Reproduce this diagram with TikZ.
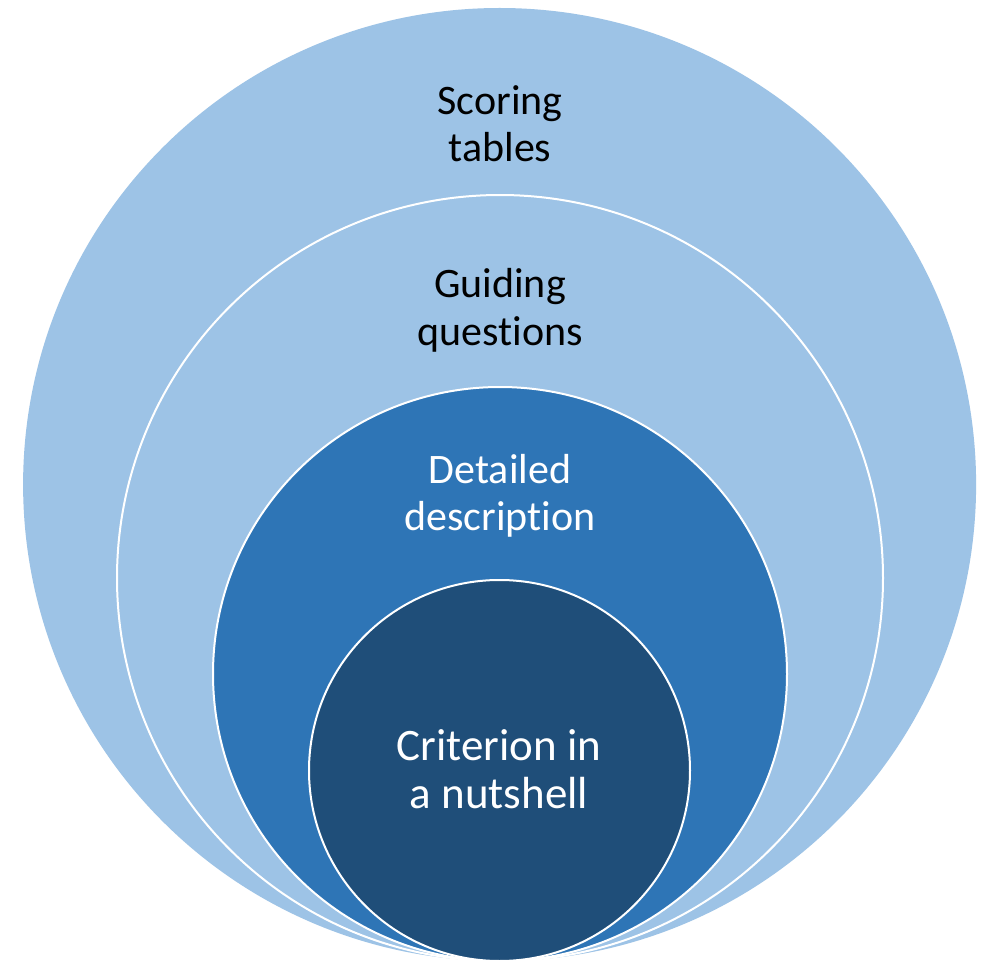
\documentclass[tikz,border=0pt]{standalone}
\usepackage{fontspec}
\setmainfont[Ligatures={NoCommon,NoContextual},Contextuals=NoAlternate,RawFeature={-liga;-clig;-calt;-dlig}]{Carlito}
\definecolor{lightblue}{HTML}{9DC3E6}
\definecolor{midblue}{HTML}{2E75B6}
\definecolor{darkblue}{HTML}{1F4E79}
\begin{document}
\begin{tikzpicture}[x=1pt,y=-1pt,
  ring/.style={circle,draw=white,line width=2pt,inner sep=0pt},
  lbl/.style={anchor=base,inner sep=0pt,font=\fontsize{42}{47}\selectfont},
  biglbl/.style={anchor=base,inner sep=0pt,font=\fontsize{45}{48}\selectfont}]
\useasboundingbox (0,0) rectangle (986,960);
\fill[white] (0,0) rectangle (986,960);
\node[ring,fill=lightblue,draw=none,minimum size=953pt] (c1) at (499.6,484.5) {};
\node[ring,fill=lightblue,minimum size=766pt] (c2) at (500,578) {};
\node[ring,fill=midblue,minimum size=574pt] (c3) at (500,674) {};
\node[ring,fill=darkblue,minimum size=381pt] (c4) at (499.5,770.5) {};
\node[lbl,text=black] (t1a) at (500,115) {Scoring};
\node[lbl,text=black] (t1b) at (500,162) {tables};
\node[lbl,text=black] (t2a) at (500,298) {Guiding};
\node[lbl,text=black] (t2b) at (500,345) {quest\kern0pt ions};
\node[lbl,text=white] (t3a) at (500,483) {Detailed};
\node[lbl,text=white] (t3b) at (500,530) {descript\kern0pt ion};
\node[biglbl,text=white] (t4a) at (499,760) {Criterion in};
\node[biglbl,text=white] (t4b) at (499,808) {a nutshell};
\end{tikzpicture}
\end{document}
